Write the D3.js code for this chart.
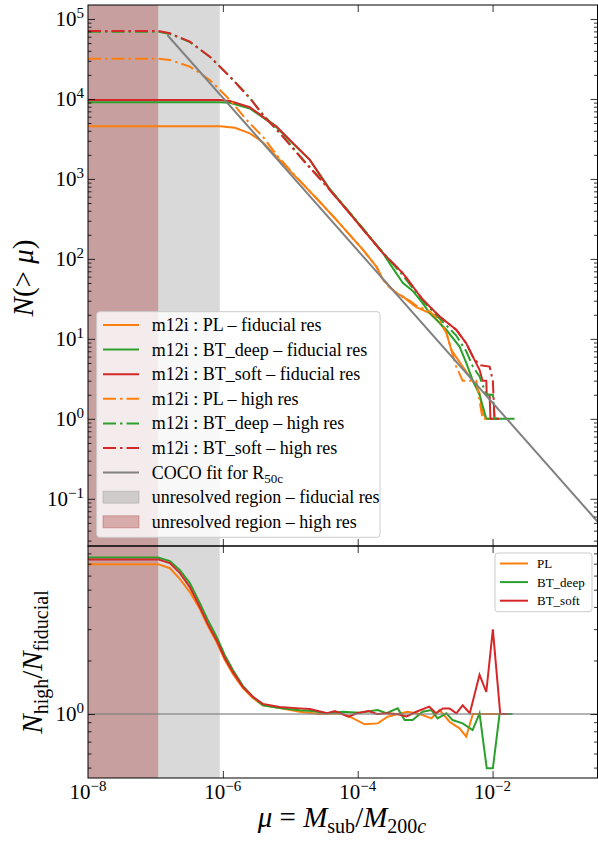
<!DOCTYPE html>
<html>
<head>
<meta charset="utf-8">
<script src="https://cdn.jsdelivr.net/npm/d3@7"></script>
<style>
body{margin:0;background:#fff;}
svg{display:block;font-family:"Liberation Serif","DejaVu Serif",serif;}
</style>
</head>
<body>
<svg id="chart" width="598" height="844"></svg>
<script>
// cumulative subhalo counts N(>mu), pairs of [mu, N]
var plFid = [[1e-8,4570],[9.03e-7,4570],[1.51e-6,4370],[2.51e-6,3720],[3.92e-6,2880],[6.25e-6,1900],[1.1e-5,1150],[2.44e-5,574],[4.83e-5,308],[7.6e-5,200],[1.2e-4,130],[1.89e-4,80],[2.37e-4,55],[2.98e-4,45],[3.74e-4,37],[4.69e-4,34],[5.89e-4,29],[7.4e-4,25],[1.17e-3,21],[1.64e-3,16],[2.06e-3,12],[2.44e-3,7.3],[3.6e-3,4.5],[5.06e-3,3],[6.41e-3,2.1],[7.11e-3,1.2],[8.07e-3,1],[9.0e-3,1]];
var deepFid = [[1e-8,9100],[9.03e-7,9100],[1.27e-6,8950],[2.51e-6,7590],[3.92e-6,5890],[6.25e-6,4420],[9.84e-6,3020],[1.95e-5,1730],[3.85e-5,745],[7.6e-5,380],[1.33e-4,215],[2.37e-4,118],[3.2e-4,80],[4.69e-4,50],[6.5e-4,40],[9.18e-4,28],[1.17e-3,21],[2.06e-3,13],[3.24e-3,8],[4.07e-3,5],[5.1e-3,3],[6.41e-3,2],[8.07e-3,1],[2.12e-2,1]];
var softFid = [[1e-8,9730],[9.03e-7,9730],[1.27e-6,9440],[2.51e-6,7870],[3.92e-6,6010],[6.25e-6,4510],[9.84e-6,3080],[1.95e-5,1730],[3.85e-5,730],[7.6e-5,372],[1.33e-4,210],[2.37e-4,118],[4.69e-4,66],[9.18e-4,31],[1.64e-3,19],[2.89e-3,13],[4.07e-3,8.8],[5.1e-3,6],[6.41e-3,4.1],[7.11e-3,3],[8.07e-3,3],[8.2e-3,2],[9.04e-3,2],[9.3e-3,1],[1.2e-2,1]];
var plHigh = [[1e-8,31900],[1.09e-7,31900],[1.64e-7,30800],[3.24e-7,25400],[6.41e-7,17300],[1.27e-6,9730],[2.24e-6,5470],[3.92e-6,3380],[6.25e-6,2000],[1.1e-5,1175],[2.44e-5,574],[4.83e-5,308],[7.6e-5,200],[1.2e-4,130],[1.89e-4,80],[2.37e-4,55],[2.98e-4,44],[3.74e-4,38],[4.69e-4,33],[5.89e-4,30],[7.4e-4,26],[1.17e-3,22],[1.64e-3,17],[2.06e-3,12],[2.89e-3,4.5],[3.6e-3,3],[5.74e-3,3],[6.2e-3,2],[7.11e-3,1],[8.5e-3,1]];
var deepHigh = [[1e-8,69200],[1.09e-7,69200],[1.64e-7,65000],[3.24e-7,51500],[6.41e-7,33800],[1.27e-6,19200],[2.51e-6,10400],[3.92e-6,6400],[7.74e-6,3450],[1.53e-5,1770],[3.85e-5,745],[7.6e-5,380],[2.37e-4,120],[4.69e-4,62],[9.18e-4,30],[1.64e-3,18],[2.89e-3,11],[4.07e-3,7],[5.1e-3,4.5],[6.41e-3,3.4],[8.07e-3,2],[1.01e-2,2],[1.07e-2,1],[1.2e-2,1]];
var softHigh = [[1e-8,70800],[1.09e-7,70800],[1.64e-7,66200],[3.24e-7,52000],[6.41e-7,33800],[1.27e-6,19000],[2.51e-6,10200],[3.92e-6,6310],[7.74e-6,3380],[1.53e-5,1730],[3.85e-5,730],[7.6e-5,372],[1.33e-4,210],[2.37e-4,118],[4.69e-4,66],[9.18e-4,31],[1.64e-3,19],[2.89e-3,13],[4.07e-3,8.8],[5.1e-3,6],[6.41e-3,4.7],[9.04e-3,4.5],[1.01e-2,3],[1.07e-2,1],[1.35e-2,1]];
var cocoFit = [[1.5e-7,63000],[0.36,0.052]];

// ratio N_high / N_fiducial, pairs of [mu, ratio]
var plRatio = [[1e-8,6.96],[1.09e-7,6.96],[1.64e-7,6.6],[2.31e-7,5.73],[3.24e-7,4.85],[4.56e-7,3.89],[6.0e-7,3.12],[8.07e-7,2.54],[1.07e-6,2.01],[1.41e-6,1.68],[1.98e-6,1.4],[2.78e-6,1.23],[3.92e-6,1.12],[6.98e-6,1.08],[1.38e-5,1.03],[2.75e-5,1.0],[5.5e-5,1.01],[7.6e-5,0.966],[1.27e-4,0.875],[1.98e-4,0.886],[2.78e-4,0.966],[3.92e-4,1.0],[5.5e-4,1.03],[8.3e-4,1.0],[1.24e-3,0.946],[1.64e-3,1.053],[2.3e-3,0.905],[3.24e-3,0.831],[4.07e-3,0.746],[5.1e-3,1.0],[1.27e-2,1.0]];
var deepRatio = [[1e-8,7.59],[1.09e-7,7.59],[1.64e-7,7.24],[2.31e-7,6.44],[3.24e-7,5.45],[4.56e-7,4.2],[6.0e-7,3.37],[8.07e-7,2.72],[1.07e-6,2.14],[1.41e-6,1.77],[1.98e-6,1.44],[2.78e-6,1.25],[3.92e-6,1.12],[6.98e-6,1.08],[1.38e-5,1.05],[2.1e-5,1.04],[3.5e-5,1.01],[6.0e-5,1.03],[1.07e-4,1.017],[1.98e-4,1.053],[2.66e-4,1.01],[3.92e-4,1.076],[4.97e-4,0.925],[6.53e-4,0.925],[9.18e-4,1.03],[1.24e-3,1.053],[1.53e-3,0.946],[2.06e-3,1.01],[2.55e-3,0.925],[3.6e-3,0.886],[5.06e-3,0.813],[6.41e-3,1.01],[8.2e-3,0.495],[1.01e-2,0.495],[1.27e-2,1.0],[1.98e-2,1.0]];
var softRatio = [[1e-8,7.4],[1.09e-7,7.4],[1.64e-7,7.05],[2.31e-7,6.2],[3.24e-7,5.17],[4.56e-7,3.99],[6.0e-7,3.2],[8.07e-7,2.6],[1.07e-6,2.06],[1.41e-6,1.72],[1.98e-6,1.42],[2.78e-6,1.25],[3.92e-6,1.14],[6.98e-6,1.095],[1.38e-5,1.076],[1.95e-5,1.067],[3.5e-5,1.01],[4.6e-5,1.04],[7.3e-5,0.966],[9.7e-5,1.01],[1.45e-4,1.04],[1.93e-4,1.0],[2.7e-4,1.01],[3.8e-4,1.0],[5.3e-4,0.97],[7.4e-4,1.03],[1.15e-3,1.1],[1.45e-3,1.01],[1.83e-3,1.076],[2.3e-3,1.076],[2.9e-3,1.01],[3.6e-3,1.12],[4.6e-3,1.01],[6.41e-3,1.66],[8.07e-3,1.33],[1.01e-2,2.99],[1.3e-2,1.0],[1.64e-2,1.0]];

// unresolved mass ranges (upper limit of mu)
var unresolvedFid = [1e-8, 9.0e-7];
var unresolvedHigh = [1e-8, 1.1e-7];

var xTickVals = [1e-8, 1e-6, 1e-4, 1e-2];
var xTickLabels = ["−8", "−6", "−4", "−2"];
var yTopTickVals = [1e-1, 1e0, 1e1, 1e2, 1e3, 1e4, 1e5];
var yTopTickLabels = ["−1", "0", "1", "2", "3", "4", "5"];
var yBotTickVals = [1];
var yBotTickLabels = ["0"];

var orange = "#ff7f0e", green = "#2ca02c", red = "#d62728";
var dashDot = "13,4,2.5,4";

var svg = d3.select("#chart");
var left = 88, right = 597.5, topY = 5, midY = 546, botY = 778;

var x = d3.scaleLog().domain([1e-8, 0.36]).range([left, right]);
var yTop = d3.scaleLog().domain([0.0257, 1.496e5]).range([midY, topY]);
var yBot = d3.scaleLog().domain([0.437, 8.8]).range([botY, midY]);

var defs = svg.append("defs");
defs.append("clipPath").attr("id","clipTop").append("rect")
    .attr("x",left).attr("y",topY).attr("width",right-left).attr("height",midY-topY);
defs.append("clipPath").attr("id","clipBot").append("rect")
    .attr("x",left).attr("y",midY).attr("width",right-left).attr("height",botY-midY);

function shade(g, yS){
    g.append("rect").attr("x",x(unresolvedFid[0])).attr("width",x(unresolvedFid[1])-x(unresolvedFid[0]))
        .attr("y",yS.range()[1]).attr("height",yS.range()[0]-yS.range()[1])
        .attr("fill","#808080").attr("fill-opacity",0.3);
    g.append("rect").attr("x",x(unresolvedHigh[0])).attr("width",x(unresolvedHigh[1])-x(unresolvedHigh[0]))
        .attr("y",yS.range()[1]).attr("height",yS.range()[0]-yS.range()[1])
        .attr("fill","#a52a2a").attr("fill-opacity",0.33);
}

// ---------- top panel ----------
var gTop = svg.append("g").attr("clip-path","url(#clipTop)");
shade(gTop, yTop);
var lineTop = d3.line().x(function(d){return x(d[0]);}).y(function(d){return yTop(d[1]);});
var topSeries = [
    {data: plFid, color: orange, dash: null},
    {data: deepFid, color: green, dash: null},
    {data: softFid, color: red, dash: null},
    {data: plHigh, color: orange, dash: dashDot},
    {data: deepHigh, color: green, dash: dashDot},
    {data: softHigh, color: red, dash: dashDot}
];
topSeries.forEach(function(s){
    gTop.append("path").datum(s.data).attr("d",lineTop)
        .attr("fill","none").attr("stroke",s.color).attr("stroke-width",2)
        .attr("stroke-dasharray",s.dash);
});
gTop.append("path").datum(cocoFit).attr("d",lineTop)
    .attr("fill","none").attr("stroke","gray").attr("stroke-width",2);

// ---------- bottom panel ----------
var gBot = svg.append("g").attr("clip-path","url(#clipBot)");
shade(gBot, yBot);
var lineBot = d3.line().x(function(d){return x(d[0]);}).y(function(d){return yBot(d[1]);});
[[plRatio,orange],[deepRatio,green],[softRatio,red]].forEach(function(s){
    gBot.append("path").datum(s[0]).attr("d",lineBot)
        .attr("fill","none").attr("stroke",s[1]).attr("stroke-width",2);
});
gBot.append("line").attr("x1",left).attr("x2",right).attr("y1",yBot(1)).attr("y2",yBot(1))
    .attr("stroke","gray").attr("stroke-opacity",0.6).attr("stroke-width",2);

// ---------- ticks ----------
function minorsFor(lo, hi){
    var out = [];
    for (var e = Math.floor(Math.log10(lo)); e <= Math.ceil(Math.log10(hi)); e++){
        for (var m = 2; m <= 9; m++){
            var v = m * Math.pow(10, e);
            if (v > lo && v < hi) out.push(v);
        }
    }
    return out;
}
function yAxes(yS, majors, minors){
    [[d3.axisLeft, left],[d3.axisRight, right]].forEach(function(a){
        var g1 = svg.append("g").attr("transform","translate("+a[1]+",0)")
            .call(a[0](yS).tickValues(majors).tickSize(-7).tickFormat(""));
        g1.select(".domain").remove();
        var g2 = svg.append("g").attr("transform","translate("+a[1]+",0)")
            .call(a[0](yS).tickValues(minors).tickSize(-3.5).tickFormat(""));
        g2.select(".domain").remove();
    });
}
yAxes(yTop, yTopTickVals, minorsFor(0.0257, 1.496e5));
yAxes(yBot, yBotTickVals, minorsFor(0.437, 8.8));

// ticks point into each panel: top edge down, bottom edge up
function xAxis(yPos, inwardDown){
    var ax = inwardDown ? d3.axisTop(x) : d3.axisBottom(x);
    var g = svg.append("g").attr("transform","translate(0,"+yPos+")")
        .call(ax.tickValues(xTickVals.slice(1)).tickSize(-7).tickFormat(""));
    g.select(".domain").remove();
}
xAxis(topY, true);
xAxis(midY, false);
xAxis(midY, true);
xAxis(botY, false);
svg.selectAll(".tick line").attr("stroke","#000").attr("stroke-width",0.8);

// frames
[[topY,midY],[midY,botY]].forEach(function(r){
    svg.append("rect").attr("x",left).attr("y",r[0]).attr("width",right-left).attr("height",r[1]-r[0])
        .attr("fill","none").attr("stroke","#000").attr("stroke-width",1);
});

// tick labels
function powLabel(g, xp, yp, exp, anchor){
    var t = g.append("text").attr("x",xp).attr("y",yp).attr("text-anchor",anchor)
        .attr("font-size",21).attr("fill","#000");
    t.append("tspan").text("10");
    t.append("tspan").attr("dy",-8).attr("font-size",15).text(exp);
}
var gLab = svg.append("g");
yTopTickVals.forEach(function(v,i){ powLabel(gLab, 84, yTop(v)+7, yTopTickLabels[i], "end"); });
yBotTickVals.forEach(function(v,i){ powLabel(gLab, 84, yBot(v)+7, yBotTickLabels[i], "end"); });
xTickVals.forEach(function(v,i){ powLabel(gLab, x(v), 799, xTickLabels[i], "middle"); });

// axis titles
var yt = svg.append("text").attr("transform","translate(33,278) rotate(-90)")
    .attr("text-anchor","middle").attr("font-size",29);
yt.append("tspan").attr("font-style","italic").text("N");
yt.append("tspan").text("(> ");
yt.append("tspan").attr("font-style","italic").text("μ");
yt.append("tspan").text(")");

var yb = svg.append("text").attr("transform","translate(42,662) rotate(-90)")
    .attr("text-anchor","middle").attr("font-size",29);
yb.append("tspan").attr("font-style","italic").text("N");
yb.append("tspan").attr("font-size",20).attr("dy",6).text("high");
yb.append("tspan").attr("dy",-6).text("/");
yb.append("tspan").attr("font-style","italic").text("N");
yb.append("tspan").attr("font-size",20).attr("dy",6).text("fiducial");

var xt = svg.append("text").attr("x",342).attr("y",827)
    .attr("text-anchor","middle").attr("font-size",29);
xt.append("tspan").attr("font-style","italic").text("μ");
xt.append("tspan").text(" = ");
xt.append("tspan").attr("font-style","italic").text("M");
xt.append("tspan").attr("font-size",20).attr("dy",6).text("sub");
xt.append("tspan").attr("dy",-6).text("/");
xt.append("tspan").attr("font-style","italic").text("M");
xt.append("tspan").attr("font-size",20).attr("dy",6).text("200");
xt.append("tspan").attr("font-size",20).attr("font-style","italic").text("c");

// ---------- legends ----------
var legTop = svg.append("g");
legTop.append("rect").attr("x",96.7).attr("y",311.7).attr("width",283.3).attr("height",225.6)
    .attr("rx",3).attr("fill","#fff").attr("fill-opacity",0.8).attr("stroke","#ccc");
var legItems = [
    {kind:"line", color:orange, dash:null, text:["m12i : PL – fiducial res"]},
    {kind:"line", color:green, dash:null, text:["m12i : BT_deep – fiducial res"]},
    {kind:"line", color:red, dash:null, text:["m12i : BT_soft – fiducial res"]},
    {kind:"line", color:orange, dash:dashDot, text:["m12i : PL – high res"]},
    {kind:"line", color:green, dash:dashDot, text:["m12i : BT_deep – high res"]},
    {kind:"line", color:red, dash:dashDot, text:["m12i : BT_soft – high res"]},
    {kind:"line", color:"gray", dash:null, text:["COCO fit for R","50c"]},
    {kind:"patch", color:"#808080", op:0.3, text:["unresolved region – fiducial res"]},
    {kind:"patch", color:"#a52a2a", op:0.33, text:["unresolved region – high res"]}
];
legItems.forEach(function(it,i){
    var cy = 325 + i*24.6;
    if (it.kind === "line"){
        legTop.append("line").attr("x1",103).attr("x2",139).attr("y1",cy).attr("y2",cy)
            .attr("stroke",it.color).attr("stroke-width",2).attr("stroke-dasharray",it.dash);
    } else {
        legTop.append("rect").attr("x",103).attr("y",cy-6).attr("width",36).attr("height",12)
            .attr("fill",it.color).attr("fill-opacity",it.op).attr("stroke",it.color).attr("stroke-opacity",it.op);
    }
    var t = legTop.append("text").attr("x",151.7).attr("y",cy+6).attr("font-size",18);
    t.append("tspan").text(it.text[0]);
    if (it.text[1]) t.append("tspan").attr("font-size",13).attr("dy",4).text(it.text[1]);
});

var legBot = svg.append("g");
legBot.append("rect").attr("x",495).attr("y",553).attr("width",97).attr("height",58.7)
    .attr("rx",3).attr("fill","#fff").attr("fill-opacity",0.8).attr("stroke","#ccc");
[["PL",orange],["BT_deep",green],["BT_soft",red]].forEach(function(it,i){
    var cy = 563.5 + i*18.6;
    legBot.append("line").attr("x1",500).attr("x2",528).attr("y1",cy).attr("y2",cy)
        .attr("stroke",it[1]).attr("stroke-width",2);
    legBot.append("text").attr("x",537).attr("y",cy+4.5).attr("font-size",13).text(it[0]);
});
</script>
</body>
</html>
